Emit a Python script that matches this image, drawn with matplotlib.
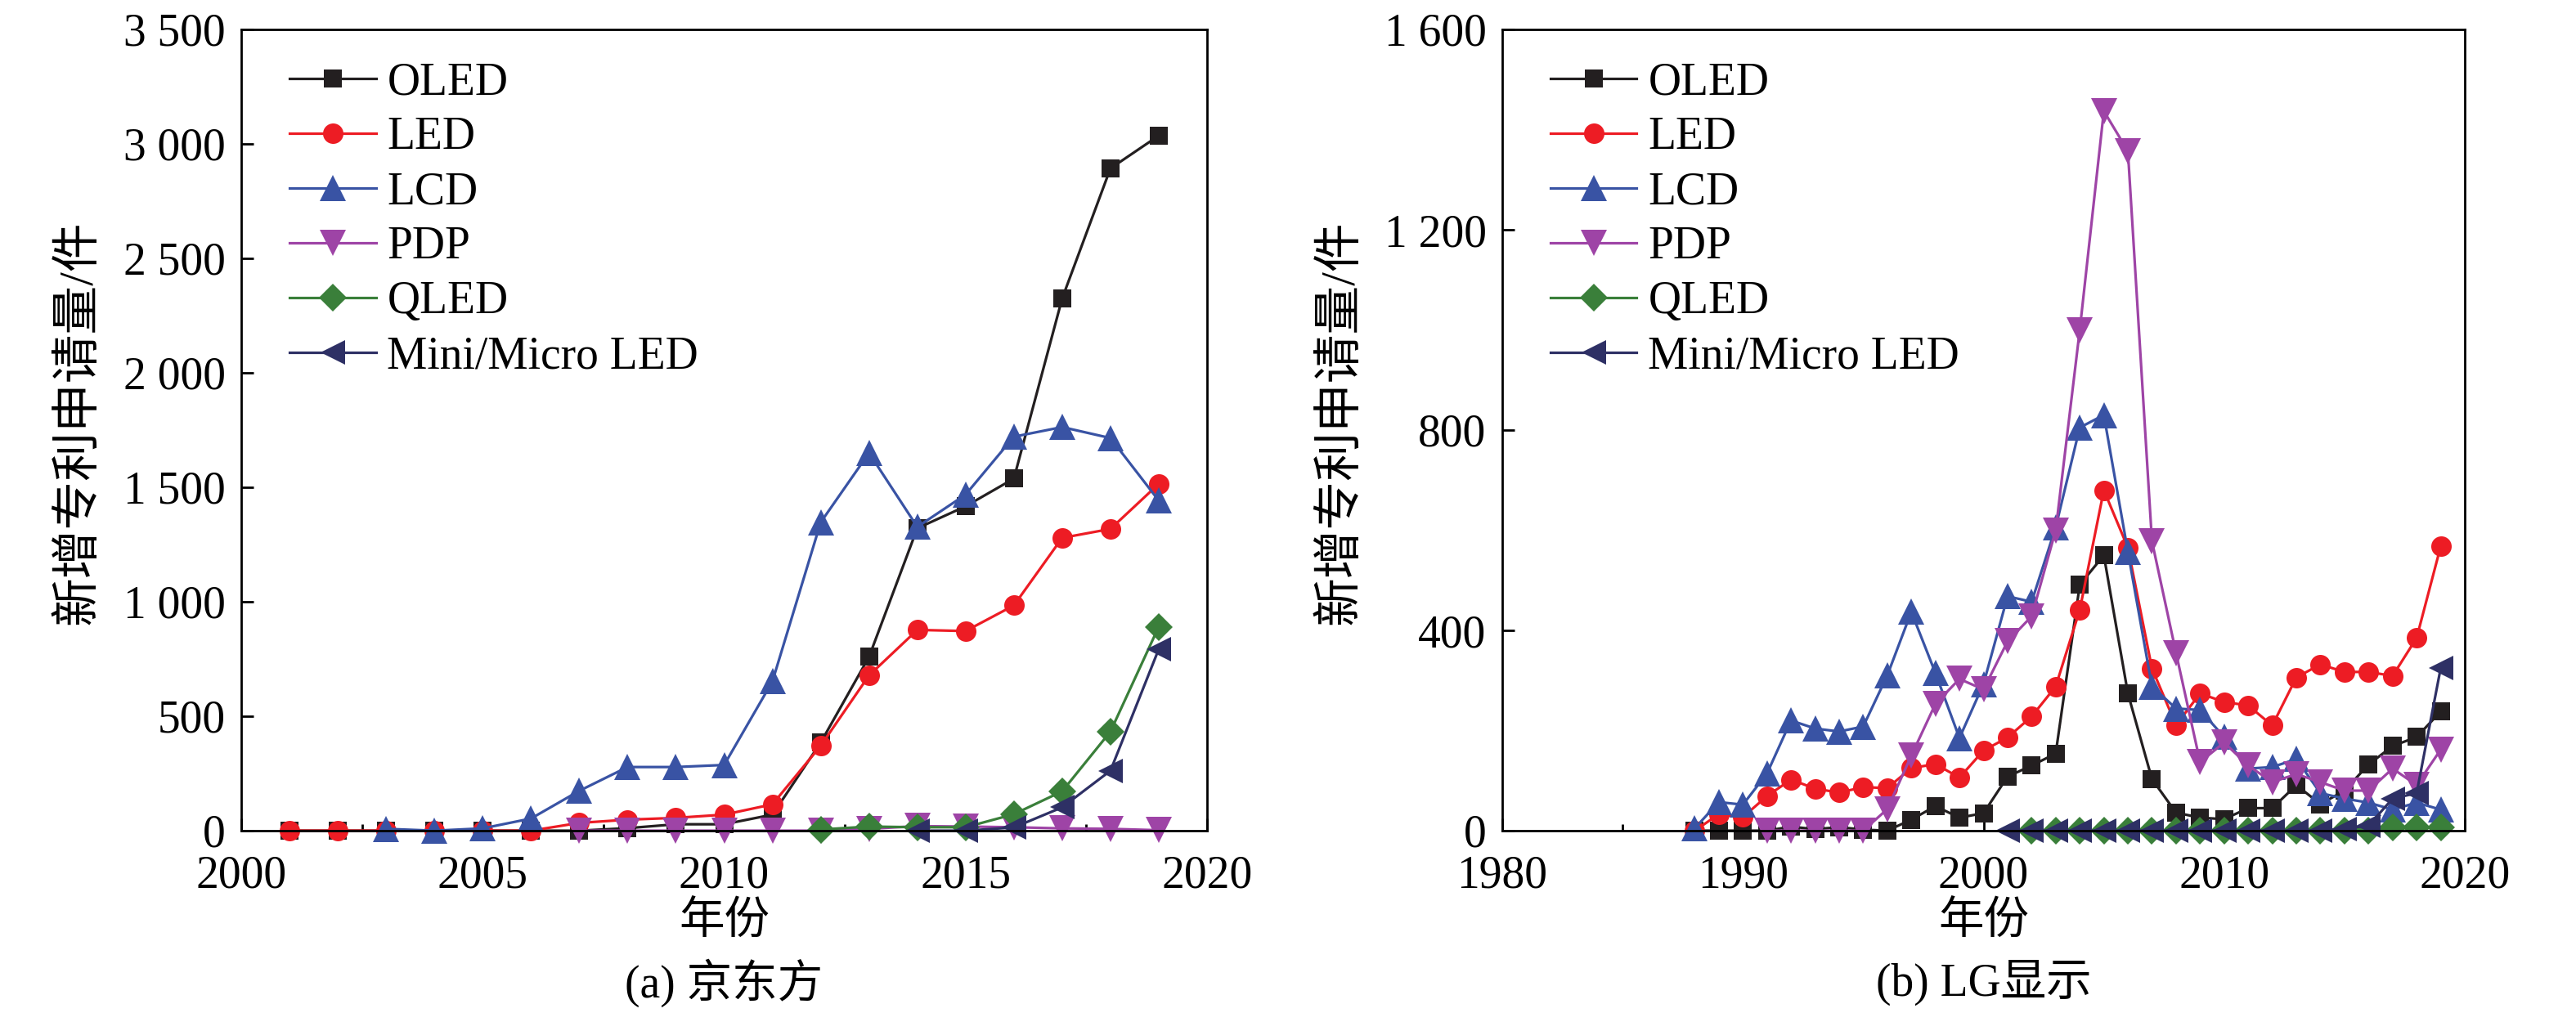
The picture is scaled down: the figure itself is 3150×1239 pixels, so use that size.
import matplotlib
matplotlib.use('Agg')
import matplotlib.pyplot as plt
from matplotlib.ticker import MultipleLocator

plt.rcParams['font.family'] = ['Liberation Serif', 'Noto Sans CJK SC']
plt.rcParams['font.size'] = 40

# ---- (a) BOE ----
boe_oled_years = list(range(2001, 2020))
boe_oled = [0, 0, 0, 0, 0, 0, 0, 11, 28, 28, 70, 385, 759, 1321, 1417, 1538, 2325, 2893, 3036]
boe_led_years = list(range(2001, 2020))
boe_led = [0, 0, 0, 0, 0, 0, 34, 48, 56, 70, 115, 371, 678, 877, 872, 984, 1279, 1318, 1515]
boe_lcd_years = list(range(2003, 2020))
boe_lcd = [8, 0, 10, 53, 174, 278, 278, 287, 652, 1347, 1650, 1327, 1468, 1721, 1763, 1715, 1442]
boe_pdp_years = list(range(2007, 2020))
boe_pdp = [0, 0, 0, 0, 0, 0, 8, 20, 18, 15, 10, 8, 2]
boe_qled_years = list(range(2012, 2020))
boe_qled = [5, 18, 15, 15, 72, 172, 433, 891]
boe_mini_years = list(range(2014, 2020))
boe_mini = [0, 0, 14, 102, 262, 793]

# ---- (b) LG Display ----
lg_oled_years = list(range(1988, 2020))
lg_oled = [0, 0, 0, 0, 8, 3, 7, 2, 0, 22, 49, 26, 35, 108, 130, 154, 491, 550, 274, 103, 36, 26, 23,
           45, 45, 91, 53, 80, 132, 169, 187, 238]
lg_led_years = list(range(1988, 2020))
lg_led = [0, 33, 27, 69, 102, 84, 76, 87, 85, 125, 133, 106, 160, 186, 228, 288, 441, 680, 565, 324,
          211, 274, 257, 250, 210, 306, 332, 317, 317, 309, 385, 568]
lg_lcd_years = list(range(1988, 2020))
lg_lcd = [5, 57, 52, 114, 220, 204, 198, 208, 310, 437, 315, 185, 293, 468, 457, 606, 805, 830, 557,
          288, 244, 241, 187, 124, 127, 143, 75, 64, 56, 42, 56, 42]
lg_pdp_years = list(range(1991, 2020))
lg_pdp = [0, 0, 0, 0, 0, 43, 150, 253, 303, 282, 378, 428, 600, 1000, 1437, 1357, 578, 355, 137,
          176, 130, 97, 113, 97, 80, 80, 124, 91, 162]
lg_qled_years = list(range(2002, 2020))
lg_qled = [0, 0, 0, 0, 0, 0, 0, 0, 0, 0, 0, 0, 0, 0, 0, 6, 6, 6]
lg_mini_years = list(range(2001, 2020))
lg_mini = [0, 0, 0, 0, 0, 0, 0, 0, 0, 0, 0, 0, 0, 0, 4, 10, 64, 75, 325]

names = ['OLED', 'LED', 'LCD', 'PDP', 'QLED', 'Mini/Micro LED']
colors = ['#231f20', '#ed1c24', '#3953a4', '#9e44a6', '#3a7f3a', '#2e3065']
markers = ['s', 'o', '^', 'v', 'D', '<']
msizes = [16, 18, 23, 23, 17, 22]

boe_ticks = [0, 500, 1000, 1500, 2000, 2500, 3000, 3500]
boe_ticklabels = ['0', '500', '1 000', '1 500', '2 000', '2 500', '3 000', '3 500']
lg_ticks = [0, 400, 800, 1200, 1600]
lg_ticklabels = ['0', '400', '800', '1 200', '1 600']

fig = plt.figure(figsize=(31.5, 12.39), dpi=100)
ax1 = fig.add_axes([295 / 3150, 1 - 1016 / 1239, 1181 / 3150, 980 / 1239])
ax2 = fig.add_axes([1837 / 3150, 1 - 1016 / 1239, 1177 / 3150, 980 / 1239])

boe = [(boe_oled_years, boe_oled), (boe_led_years, boe_led), (boe_lcd_years, boe_lcd),
       (boe_pdp_years, boe_pdp), (boe_qled_years, boe_qled), (boe_mini_years, boe_mini)]
lg = [(lg_oled_years, lg_oled), (lg_led_years, lg_led), (lg_lcd_years, lg_lcd),
      (lg_pdp_years, lg_pdp), (lg_qled_years, lg_qled), (lg_mini_years, lg_mini)]


def draw(ax, series, xlim, xmajor, xminor, ticks, ticklabels, subtitle):
    for (x, y), name, c, m, ms in zip(series, names, colors, markers, msizes):
        ax.plot(x, y, color=c, marker=m, markersize=ms, linewidth=2.3,
                markeredgewidth=0, label=name, clip_on=False)
    ax.set_xlim(*xlim)
    ax.set_ylim(ticks[0], ticks[-1])
    ax.xaxis.set_major_locator(MultipleLocator(xmajor))
    ax.xaxis.set_minor_locator(MultipleLocator(xminor))
    ax.set_yticks(ticks)
    ax.set_yticklabels(ticklabels)
    ax.tick_params(which='both', direction='in', top=False, right=False, width=2)
    ax.tick_params(which='major', length=11)
    ax.tick_params(which='minor', length=6)
    ax.tick_params(axis='x', pad=21)
    ax.tick_params(axis='y', pad=14)
    for s in ax.spines.values():
        s.set_linewidth(2)
    ax.set_ylabel('新增专利申请量/件', va='center', fontsize=43)
    ax.yaxis.set_label_coords(-0.168, 0.51)
    ax.text(0.5, -0.115, '年份', transform=ax.transAxes, ha='center', va='center')
    ax.text(0.5, -0.19, subtitle, transform=ax.transAxes, ha='center', va='center')
    ax.legend(loc='upper left', bbox_to_anchor=(0.05, 0.96), frameon=False,
              handlelength=1.9, handletextpad=0.25, labelspacing=0.27, borderpad=0,
              borderaxespad=0)


draw(ax1, boe, (2000, 2020), 5, 2.5, boe_ticks, boe_ticklabels, '(a) 京东方')
draw(ax2, lg, (1980, 2020), 10, 5, lg_ticks, lg_ticklabels, '(b) LG显示')

fig.savefig('out.png', dpi=100)
